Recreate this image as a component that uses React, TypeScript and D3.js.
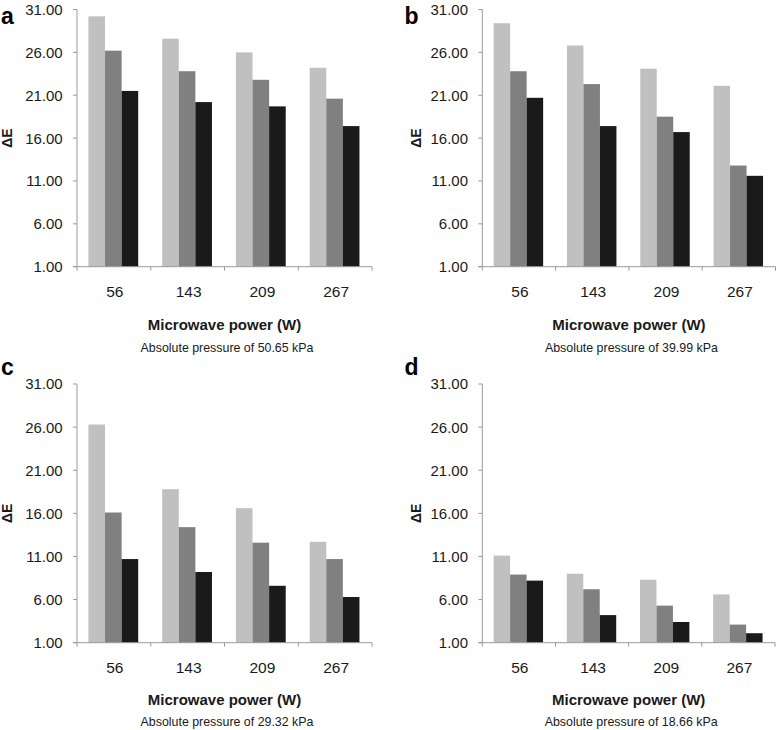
import React from "react";
import * as d3 from "d3";

const categories = ["56", "143", "209", "267"];
const seriesKeys = ["s1", "s2", "s3"];
const seriesColors = ["#c0c0c0", "#808080", "#1a1a1a"];
const yTicks = [1, 6, 11, 16, 21, 26, 31];

const panelA = [
  [30.2, 26.2, 21.5],
  [27.6, 23.8, 20.2],
  [26.0, 22.8, 19.7],
  [24.2, 20.6, 17.4],
];
const panelB = [
  [29.4, 23.8, 20.7],
  [26.8, 22.3, 17.4],
  [24.1, 18.5, 16.7],
  [22.1, 12.8, 11.6],
];
const panelC = [
  [26.3, 16.1, 10.7],
  [18.8, 14.4, 9.2],
  [16.6, 12.6, 7.6],
  [12.7, 10.7, 6.3],
];
const panelD = [
  [11.1, 8.9, 8.2],
  [9.0, 7.2, 4.2],
  [8.3, 5.3, 3.4],
  [6.6, 3.1, 2.1],
];

const letters = ["a", "b", "c", "d"];
const subtitles = [
  "Absolute pressure of 50.65 kPa",
  "Absolute pressure of 39.99 kPa",
  "Absolute pressure of 29.32 kPa",
  "Absolute pressure of 18.66 kPa",
];
const panelData = [panelA, panelB, panelC, panelD];

const layouts = [
  { left: 77, right: 372, top: 9.5, bottom: 266.7, letterX: 1, letterY: 24, deX: 12, catY: 297.3, titleY: 329.5, subY: 352 },
  { left: 482.3, right: 775.5, top: 9.5, bottom: 266.7, letterX: 404.5, letterY: 23.5, deX: 421, catY: 297.3, titleY: 329.5, subY: 352 },
  { left: 77, right: 372, top: 384, bottom: 642.7, letterX: 1, letterY: 375, deX: 12, catY: 672.5, titleY: 705, subY: 726 },
  { left: 482.3, right: 775, top: 384, bottom: 642.7, letterX: 404.5, letterY: 375, deX: 421, catY: 672.5, titleY: 705, subY: 726 },
];

const FONT = "'Liberation Sans', Arial, sans-serif";

function Panel({ idx }: { idx: number }) {
  const L = layouts[idx];
  const data = panelData[idx];
  const y = d3.scaleLinear().domain([1, 31]).range([L.bottom, L.top]);
  const x = d3.scaleBand<string>().domain(categories).range([L.left, L.right]).paddingInner(0).paddingOuter(0);
  const bw = x.bandwidth();
  const xs = d3.scaleBand<string>().domain(seriesKeys).range([bw * 0.155, bw * 0.83]).padding(0);
  const axisColor = "#9a9a9a";
  const cx = (L.left + L.right) / 2;
  const boundaries = [...categories.map((c) => x(c) as number), L.right];
  return (
    <g>
      <text x={L.letterX} y={L.letterY} fontFamily={FONT} fontWeight="bold" fontSize={23} fill="#000">
        {letters[idx]}
      </text>
      {categories.map((c, i) =>
        seriesKeys.map((s, j) => (
          <rect
            key={c + s}
            x={(x(c) as number) + (xs(s) as number)}
            y={y(data[i][j])}
            width={xs.bandwidth()}
            height={L.bottom - y(data[i][j])}
            fill={seriesColors[j]}
          />
        ))
      )}
      <line x1={L.left} x2={L.left} y1={L.top} y2={L.bottom} stroke={axisColor} strokeWidth={1} />
      <line x1={L.left - 4} x2={L.right} y1={L.bottom} y2={L.bottom} stroke={axisColor} strokeWidth={1} />
      {yTicks.map((t) => (
        <g key={t}>
          <line x1={L.left - 4} x2={L.left} y1={y(t)} y2={y(t)} stroke={axisColor} />
          <text x={L.left - 14.3} y={y(t)} dy="0.36em" textAnchor="end" fontFamily={FONT} fontSize={15} fill="#1a1a1a">
            {d3.format(".2f")(t)}
          </text>
        </g>
      ))}
      {boundaries.map((b, i) => (
        <line key={i} x1={b} x2={b} y1={L.bottom} y2={L.bottom + 4} stroke={axisColor} />
      ))}
      {categories.map((c) => (
        <text key={c} x={(x(c) as number) + bw / 2 + 1} y={L.catY} textAnchor="middle" fontFamily={FONT} fontSize={15.5} fill="#1a1a1a">
          {c}
        </text>
      ))}
      <text
        transform={`translate(${L.deX},${(L.top + L.bottom) / 2}) rotate(-90)`}
        textAnchor="middle"
        fontFamily={FONT}
        fontWeight="bold"
        fontSize={14}
        fill="#1a1a1a"
      >
        ΔE
      </text>
      <text x={cx} y={L.titleY} textAnchor="middle" fontFamily={FONT} fontWeight="bold" fontSize={15} fill="#1a1a1a">
        Microwave power (W)
      </text>
      <text x={cx + 2.5} y={L.subY} textAnchor="middle" fontFamily={FONT} fontSize={12.4} fill="#1a1a1a">
        {subtitles[idx]}
      </text>
    </g>
  );
}

export default function App() {
  return (
    <div style={{ position: "absolute", left: 0, top: 0 }}>
      <svg width={777} height={730} style={{ display: "block", background: "#fff" }}>
        {[0, 1, 2, 3].map((i) => (
          <Panel key={i} idx={i} />
        ))}
      </svg>
    </div>
  );
}
